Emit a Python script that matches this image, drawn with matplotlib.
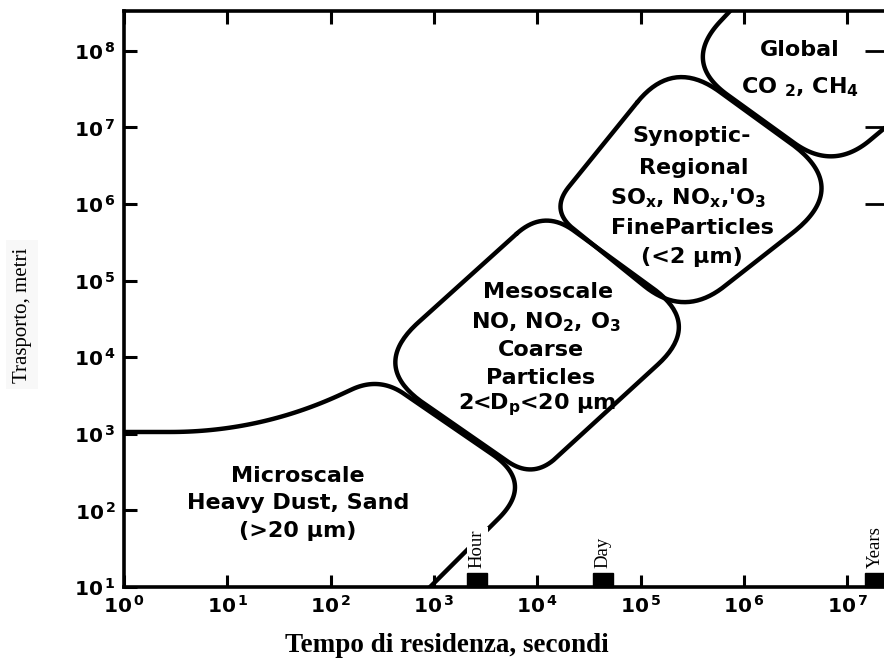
import numpy as np
import matplotlib
matplotlib.use("Agg")
import matplotlib.pyplot as plt
from matplotlib.patches import Rectangle
from matplotlib.ticker import FixedLocator, FuncFormatter, NullLocator

# ---------------- data: region outlines as corner points ----------------
# (log10 residence time [s], log10 transport [m])
micro_logt = [0.000, 1.317, 2.470, 3.969, 2.672]
micro_logd = [3.024, 3.024, 3.745, 2.358, 0.608]

meso_logt = [4.066, 5.595, 3.959, 2.381]
meso_logd = [5.935, 4.433, 2.410, 3.885]

syn_logt = [5.315, 7.038, 5.421, 4.124]
syn_logd = [7.906, 6.222, 4.512, 5.922]

glob_logt = [6.012, 5.402, 6.864, 7.514]
glob_logd = [8.728, 7.854, 6.431, 7.162]

marker_names = ["Hour", "Day", "Years"]
marker_logt = [3.42, 4.64, 7.27]

x_exponents = [0, 1, 2, 3, 4, 5, 6, 7]
y_exponents = [1, 2, 3, 4, 5, 6, 7, 8]
right_tick_exponents = [6, 7, 8]

micro_lines = ["Microscale", "Heavy Dust, Sand", "(>20 µm)"]
meso_lines = ["Mesoscale", r"NO, NO$_\mathbf{2}$, O$_\mathbf{3}$", "Coarse", "Particles",
              r"2<D$_\mathbf{p}$<20 µm"]
syn_lines = ["Synoptic-", "Regional", r"SO$_\mathbf{x}$, NO$_\mathbf{x}$,'O$_\mathbf{3}$",
             "FineParticles", "(<2 µm)"]
glob_lines = ["Global", r"CO $_\mathbf{2}$, CH$_\mathbf{4}$"]

# ---------------- style ----------------
SX, SY = 103.3, 76.6          # pixels per decade (x, y) used for corner rounding
corner_r = {
    "micro": [0, 90, 30, 50, 0],
    "meso": [37, 60, 31, 65],
    "syn": [57, 74, 51, 30],
    "glob": [0, 56, 48, 0],
}


def rounded(xs, ys, radii, closed, n=40):
    P = np.column_stack([np.asarray(xs) * SX, np.asarray(ys) * SY])
    N = len(P)
    pts = []
    idxs = range(N) if closed else range(1, N - 1)
    if not closed:
        pts.append(P[0])
    t = np.linspace(0, 1, n)[:, None]
    for i in idxs:
        V = P[i]
        prv = P[i - 1]
        nxt = P[(i + 1) % N]
        r = radii[i]
        u1 = (prv - V) / np.linalg.norm(prv - V)
        u2 = (nxt - V) / np.linalg.norm(nxt - V)
        A = V + r * u1
        B = V + r * u2
        seg = (1 - t) ** 2 * A + 2 * (1 - t) * t * V + t ** 2 * B
        pts.extend(seg)
    if closed:
        pts.append(pts[0])
    else:
        pts.append(P[-1])
    arr = np.array(pts)
    return 10 ** (arr[:, 0] / SX), 10 ** (arr[:, 1] / SY)


fig = plt.figure(figsize=(8.84, 6.63), dpi=100)
ax = fig.add_axes([0.1403, 0.1146, 0.8597, 0.8695])
ax.set_xscale("log")
ax.set_yscale("log")
ax.set_xlim(1, 10 ** 7.357)
ax.set_ylim(10, 10 ** 8.526)

ax.xaxis.set_major_locator(FixedLocator([10.0 ** e for e in x_exponents]))
ax.yaxis.set_major_locator(FixedLocator([10.0 ** e for e in y_exponents]))
ax.xaxis.set_minor_locator(NullLocator())
ax.yaxis.set_minor_locator(NullLocator())
fmt = FuncFormatter(lambda v, p: r"$\mathbf{10^{\,%d}}$" % int(round(np.log10(v))))
ax.xaxis.set_major_formatter(fmt)
ax.yaxis.set_major_formatter(fmt)
ax.tick_params(which="major", direction="in", length=9, width=2.2, top=True, right=False,
               labelsize=14.5, colors="black")
ax.tick_params(axis="x", pad=6)
ax.tick_params(axis="y", pad=6)
for s in ["left", "bottom", "top"]:
    ax.spines[s].set_linewidth(2.6)
ax.spines["right"].set_visible(False)

sec = ax.secondary_yaxis("right")
sec.yaxis.set_major_locator(FixedLocator([10.0 ** e for e in right_tick_exponents]))
sec.yaxis.set_minor_locator(NullLocator())
sec.tick_params(direction="in", length=14, width=2.0, labelright=False)
sec.spines["right"].set_visible(False)

lw = 3.2
for key, xs, ys, closed in [("micro", micro_logt, micro_logd, False),
                            ("meso", meso_logt, meso_logd, True),
                            ("syn", syn_logt, syn_logd, True),
                            ("glob", glob_logt, glob_logd, False)]:
    cx, cy = rounded(xs, ys, corner_r[key], closed)
    ax.plot(cx, cy, color="black", lw=lw, solid_capstyle="round", solid_joinstyle="round")

# region labels
txt_kw = dict(ha="center", va="center", fontsize=16, fontweight="bold", family="DejaVu Sans",
              color="black")


def px2data(px, py):
    return 10 ** ((px - 124) / 103.3), 10 ** (1 + (587 - py) / 76.6)


for lines, centers in [
    (micro_lines, [(298, 476), (298, 503), (298, 531)]),
    (meso_lines, [(548, 292), (546, 322), (541, 350), (541, 378), (537, 405)]),
    (syn_lines, [(692, 136), (694, 168), (688, 198), (692, 228), (692, 257)]),
    (glob_lines, [(800, 50), (800, 87)]),
]:
    for s, (px, py) in zip(lines, centers):
        ax.text(*px2data(px, py), s, **txt_kw)

# time markers
for name, lt in zip(marker_names, marker_logt):
    x0, x1 = 10 ** (lt - 0.097), 10 ** (lt + 0.097)
    ax.add_patch(Rectangle((x0, 10), x1 - x0, 10 ** 1.183 - 10, facecolor="black",
                           edgecolor="black", clip_on=False, zorder=5))
    ax.text(10 ** lt, 10 ** 1.25, name, rotation=90, ha="center", va="bottom",
            family="Liberation Serif", fontsize=13.5, zorder=6,
            bbox=dict(facecolor="white", edgecolor="none", pad=1.5))

fig.text(0.025, 0.525, "Trasporto, metri", rotation=90, ha="center", va="center",
         family="Liberation Serif", fontsize=15,
         bbox=dict(facecolor="#f8f8f8", edgecolor="none", pad=5))
fig.text(0.506, 0.0166, "Tempo di residenza, secondi", ha="center", va="baseline",
         family="Liberation Serif", fontweight="bold", fontsize=19.5)

fig.savefig("out.png", dpi=100)
